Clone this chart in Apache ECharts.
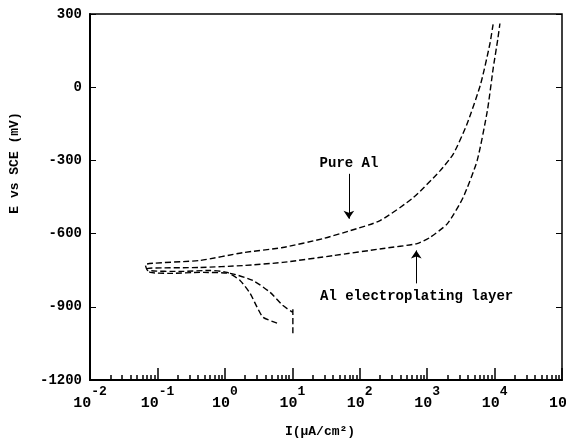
<!DOCTYPE html>
<html>
<head>
<meta charset="utf-8">
<script src="https://cdn.jsdelivr.net/npm/echarts@6/dist/echarts.min.js"></script>
<style>
  html, body { margin: 0; padding: 0; background: #fff; }
  #chart { width: 566px; height: 443px; }
</style>
</head>
<body>
<div id="chart"></div>
<script>
// current density (uA/cm2) and potential (mV vs SCE)
const pureAlI = [5.94, 3.69, 3.01, 2.37, 1.68, 1.08, 0.60, 0.22, 0.072, 0.066, 0.43, 1.86, 7.2, 29, 72, 200, 620, 1550, 2450, 3900, 6200, 8500, 9550]
const pureAlE = [-967, -943, -902, -845, -792, -759, -751, -755, -751, -727, -710, -678, -657, -620, -588, -547, -453, -343, -273, -151, 12, 176, 261]

const platedI = [10.2, 10.2, 10.2, 7.2, 4.7, 2.6, 1.2, 0.43, 0.155, 0.078, 0.071, 0.43, 1.86, 7.2, 41, 224, 710, 1100, 2000, 3400, 5500, 7800, 9550, 11200, 12000]
const platedE = [-1008, -905, -923, -894, -841, -792, -763, -759, -763, -759, -743, -739, -731, -718, -690, -661, -641, -616, -559, -453, -302, -98, 78, 200, 261]

const yTicks = [-1200, -900, -600, -300, 0, 300]
const xTickExps = [-2, -1, 0, 1, 2, 3, 4, 5]

const pair = (xs, ys) => xs.map((x, i) => [x, ys[i]])

// minor ticks 2..9 in every decade
const minorTicks = []
xTickExps.slice(0, -1).forEach(e => {
  for (let m = 2; m <= 9; m++) minorTicks.push(m * Math.pow(10, e))
})

const mono = 'Liberation Mono'
const lineStyle = { color: '#000', width: 1.4, type: [6, 3] }
const arrow = (x, y0, y1) => ({
  silent: true,
  symbol: ['none', 'arrow'],
  symbolSize: 8,
  label: { show: false },
  lineStyle: { color: '#000', width: 1, type: 'solid' },
  data: [[{ coord: [x, y0] }, { coord: [x, y1] }]]
})

const myChart = echarts.init(document.getElementById('chart'))
myChart.setOption({
  animation: false,
  backgroundColor: '#fff',
  grid: {
    left: 90, right: 4, top: 14, bottom: 63,
    outerBoundsMode: 'none',
    containLabel: false,
    show: true, borderColor: '#000', borderWidth: 1.5
  },
  xAxis: [
    {
      type: 'log',
      logBase: 10,
      min: 0.01,
      max: 100000,
      axisLine: { onZero: false, lineStyle: { color: '#000', width: 2 } },
      axisTick: { inside: true, length: 12, lineStyle: { color: '#000', width: 1.5 } },
      splitLine: { show: false },
      axisLabel: {
        margin: 5,
        formatter: v => '{b|10}{e|' + Math.round(Math.log10(v)) + '}',
        rich: {
          b: { fontFamily: mono, fontWeight: 'bold', fontSize: 15, color: '#000', lineHeight: 26, verticalAlign: 'bottom' },
          e: { fontFamily: mono, fontWeight: 'bold', fontSize: 13, color: '#000', lineHeight: 26, verticalAlign: 'top' }
        }
      }
    },
    {
      type: 'log',
      logBase: 10,
      min: 0.01,
      max: 100000,
      position: 'bottom',
      axisLine: { show: false, onZero: false },
      axisLabel: { show: false },
      splitLine: { show: false },
      axisTick: { inside: true, length: 5, customValues: minorTicks, lineStyle: { color: '#000', width: 1.5 } }
    }
  ],
  yAxis: [
    {
      type: 'value',
      min: -1200,
      max: 300,
      interval: 300,
      axisLine: { show: true, onZero: false, lineStyle: { color: '#000', width: 2 } },
      axisTick: { show: true, inside: true, length: 6, lineStyle: { color: '#000' } },
      splitLine: { show: false },
      axisLabel: {
        margin: 8,
        fontFamily: mono, fontWeight: 'bold', fontSize: 14, color: '#000',
        formatter: v => yTicks.includes(v) ? String(v) : ''
      }
    },
    {
      type: 'value',
      min: -1200,
      max: 300,
      interval: 300,
      position: 'right',
      axisLine: { show: false, onZero: false },
      axisTick: { show: true, inside: true, length: 6, lineStyle: { color: '#000' } },
      axisLabel: { show: false },
      splitLine: { show: false }
    }
  ],
  graphic: [
    {
      type: 'text', x: 15, y: 163, rotation: Math.PI / 2,
      style: { text: 'E vs SCE (mV)', font: 'bold 13px ' + mono, fill: '#000', align: 'center', verticalAlign: 'middle' }
    },
    {
      type: 'text', x: 320, y: 432,
      style: { text: 'I(µA/cm²)', font: 'bold 13px ' + mono, fill: '#000', align: 'center', verticalAlign: 'middle' }
    },
    {
      type: 'text', x: 349, y: 163,
      style: { text: 'Pure Al', font: 'bold 14px ' + mono, fill: '#000', align: 'center', verticalAlign: 'middle' }
    },
    {
      type: 'text', x: 320, y: 296,
      style: { text: 'Al electroplating layer', font: 'bold 14px ' + mono, fill: '#000', align: 'left', verticalAlign: 'middle' }
    }
  ],
  series: [
    {
      name: 'Pure Al',
      type: 'line',
      data: pair(pureAlI, pureAlE),
      showSymbol: false,
      smooth: 0.2,
      lineStyle: lineStyle,
      markLine: arrow(69, -355, -539)
    },
    {
      name: 'Al electroplating layer',
      type: 'line',
      data: pair(platedI, platedE),
      showSymbol: false,
      smooth: 0.2,
      lineStyle: lineStyle,
      markLine: arrow(690, -804, -669)
    }
  ]
})
</script>
</body>
</html>
